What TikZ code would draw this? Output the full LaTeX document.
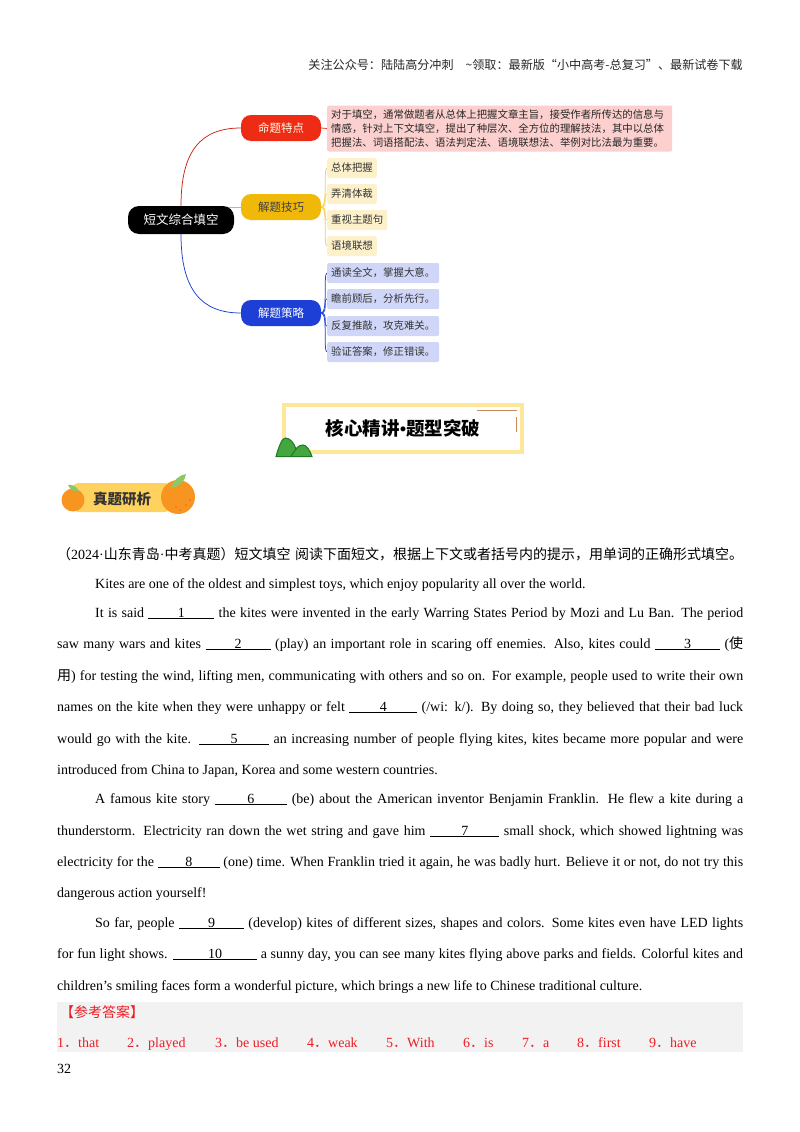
\documentclass[tikz,border=0pt]{standalone}
\usepackage{fontspec}
\setmainfont{Liberation Serif}
\newfontfamily\cjk{Noto Sans CJK SC}
\usetikzlibrary{backgrounds,calc}
\definecolor{cred}{HTML}{EE2C16}
\definecolor{cyel}{HTML}{F0B90A}
\definecolor{cblu}{HTML}{1E3FD6}
\definecolor{lred}{HTML}{FBD0CE}
\definecolor{lyel}{HTML}{FDF1CC}
\definecolor{lblu}{HTML}{D0D6F8}
\definecolor{frame}{HTML}{FFE79A}
\definecolor{gband}{HTML}{F2F2F2}
\definecolor{ansred}{HTML}{EE1C25}
\definecolor{orng}{HTML}{F89420}
\definecolor{lf}{HTML}{8CC868}
\definecolor{mnt}{HTML}{45A63F}
\definecolor{mntd}{HTML}{1B7A22}
\definecolor{tagc}{HTML}{FFD25E}
\definecolor{thinc}{HTML}{C98A60}
\newcommand\blank[2]{$\underline{\hbox to #1pt{\hss #2\hss}}$}
\newcommand\zh[1]{{\cjk\fontsize{14}{16}\selectfont #1}}
\tikzset{
  x=1pt,y=-1pt,
  branch/.style={rounded corners=10pt,minimum width=80pt,minimum height=26pt,inner sep=0pt,font=\cjk\fontsize{11.5}{13}\selectfont},
  leaf/.style={rounded corners=2pt,anchor=west,minimum height=20pt,inner sep=0pt,inner xsep=4pt,font=\cjk\fontsize{10.4}{13}\selectfont,text=black!80},
  bodyl/.style={anchor=base west,inner sep=0pt,font=\fontsize{14}{16}\selectfont},
  ans/.style={anchor=base west,inner sep=0pt,text=ansred,font=\fontsize{14}{16}\selectfont},
  link/.style={line width=0.75pt},
}
\begin{document}
\begin{tikzpicture}
\useasboundingbox (0,0) rectangle (800,1132);
\begin{scope}[on background layer]
\fill[white] (0,0) rectangle (800,1132);
\fill[gband] (57,1002) rectangle (743,1052);
\end{scope}
% header
\node[anchor=east,inner sep=0pt,font=\cjk\fontsize{12.1}{14}\selectfont,text=black!85] (hdr) at (743,65) {关注公众号：陆陆高分冲刺\hspace{12pt}\textasciitilde 领取：最新版“小中高考-总复习”、最新试卷下载};
% mind map
\node[rounded corners=11pt,fill=black,text=white,minimum width=106pt,minimum height=28pt,inner sep=0pt,font=\cjk\fontsize{12.5}{14}\selectfont] (root) at (181,220) {短文综合填空};
\node[branch,fill=cred,text=white!90!yellow] (b1) at (281,128) {命题特点};
\node[branch,fill=cyel,text=black!75] (b2) at (281,207) {解题技巧};
\node[branch,fill=cblu,text=white] (b3) at (281,313) {解题策略};
\node[anchor=west,fill=lred,rounded corners=2pt,inner sep=0pt,inner xsep=4pt,minimum height=46pt,text width=337pt,align=left,font=\cjk\fontsize{10.4}{14}\selectfont,text=black!85] (pink) at (327,128.5) {对于填空，通常做题者从总体上把握文章主旨，接受作者所传达的信息与\\情感，针对上下文填空，提出了种层次、全方位的理解技法，其中以总体\\把握法、词语搭配法、语法判定法、语境联想法、举例对比法最为重要。};
\node[leaf,fill=lyel] (y1) at (327,168) {总体把握};
\node[leaf,fill=lyel] (y2) at (327,194) {弄清体裁};
\node[leaf,fill=lyel] (y3) at (327,220) {重视主题句};
\node[leaf,fill=lyel] (y4) at (327,246) {语境联想};
\node[leaf,fill=lblu] (u1) at (327,273) {通读全文，掌握大意。};
\node[leaf,fill=lblu] (u2) at (327,299) {瞻前顾后，分析先行。};
\node[leaf,fill=lblu] (u3) at (327,326) {反复推敲，攻克难关。};
\node[leaf,fill=lblu] (u4) at (327,352) {验证答案，修正错误。};
\begin{scope}[on background layer]
\draw[link,cred!85!black] (root.north) .. controls +(0,-55) and +(-40,0) .. (b1.west);
\draw[link,cyel] (b2.west) -- ([xshift=-9pt]b2.west -| root.east);
\draw[link,cblu] (root.south) .. controls +(0,55) and +(-40,0) .. (b3.west);
\draw[link,cred] (b1.east) -- (pink.west);
\foreach \n in {y1,y2,y3,y4}{\draw[link,cyel!70] (b2.east) .. controls +(7,0) and +(-4,0) .. (\n.west);}
\foreach \n in {u1,u2,u3,u4}{\draw[link,cblu] (b3.east) .. controls +(7,0) and +(-4,0) .. (\n.west);}
\end{scope}
% banner
\draw[frame,line width=4pt] (284,405) rectangle (522,452);
\draw[thinc,line width=1pt] (477,410) -- (517,410);
\draw[thinc,line width=1pt] (516,417) -- (516,432);
\filldraw[fill=mnt,draw=mntd,line width=1pt] (276,456.5) .. controls (279,446) and (282,438) .. (285.5,438) .. controls (290,438) and (294,443) .. (296,449) .. controls (298,446) and (301,445) .. (303,445) .. controls (307,445) and (310,451) .. (312,456.5) -- cycle;
\draw[mntd,line width=1pt] (296,449) -- (291,456);
\node[inner sep=0pt,font=\cjk\bfseries\fontsize{18.5}{20}\selectfont] (bt) at (403,428) {核心精讲{\rmfamily\bfseries •}题型突破};
% tag
\fill[rounded corners=5pt,fill=tagc] (73,483) rectangle (170,512);
\fill[orng] (73,500) circle (11.5);
\fill[orng] (178,497) circle (17);
\fill[lf] (68,485) .. controls (73,484) and (77,487) .. (79,491) .. controls (75,492) and (70,490) .. (68,485) -- cycle;
\fill[lf] (171,488) .. controls (174,480) and (179,475) .. (186,474) .. controls (185,481) and (180,487) .. (171,488) -- cycle;
\foreach \p in {(186,505),(190,500),(180,510),(176,507)}{\fill[red!60!orange] \p circle (0.6);}
\node[inner sep=0pt,font=\cjk\bfseries\fontsize{14.5}{16}\selectfont,text=black!80] (tt) at (122,499) {真题研析};
% body
\node[bodyl] (t0) at (57,559) {\hbox to 686pt{\zh{（}2024·\zh{山东青岛}·\zh{中考真题）短文填空}\hfil\zh{阅读下面短文，根据上下文或者括号内的提示，用单词的正确形式填空。}}};
\node[bodyl] (t1) at (95,588) {Kites are one of the oldest and simplest toys, which enjoy popularity all over the world.};
\node[bodyl] (t2) at (95,617) {\hbox to 648pt{It is said \blank{66}{1} the kites were invented in the early Warring States Period by Mozi and Lu Ban. The period}};
\node[bodyl] (t3) at (57,648) {\hbox to 686pt{saw many wars and kites \blank{65}{2} (play) an important role in scaring off enemies. Also, kites could \blank{65}{3} (\zh{使}}};
\node[bodyl] (t4) at (57,680) {\hbox to 686pt{\zh{用}) for testing the wind, lifting men, communicating with others and so on. For example, people used to write their own}};
\node[bodyl] (t5) at (57,711) {\hbox to 686pt{names on the kite when they were unhappy or felt \blank{68}{4} (/wi: k/). By doing so, they believed that their bad luck}};
\node[bodyl] (t6) at (57,743) {\hbox to 686pt{would go with the kite. \blank{70}{5} an increasing number of people flying kites, kites became more popular and were}};
\node[bodyl] (t7) at (57,774) {introduced from China to Japan, Korea and some western countries.};
\node[bodyl] (t8) at (95,803) {\hbox to 648pt{A famous kite story \blank{72}{6} (be) about the American inventor Benjamin Franklin. He flew a kite during a}};
\node[bodyl] (t9) at (57,835) {\hbox to 686pt{thunderstorm. Electricity ran down the wet string and gave him \blank{69}{7} small shock, which showed lightning was}};
\node[bodyl] (t10) at (57,866) {\hbox to 686pt{electricity for the \blank{62}{8} (one) time. When Franklin tried it again, he was badly hurt. Believe it or not, do not try this}};
\node[bodyl] (t11) at (57,897) {dangerous action yourself!};
\node[bodyl] (t12) at (95,927) {\hbox to 648pt{So far, people \blank{65}{9} (develop) kites of different sizes, shapes and colors. Some kites even have LED lights}};
\node[bodyl] (t13) at (57,958) {\hbox to 686pt{for fun light shows. \blank{84}{10} a sunny day, you can see many kites flying above parks and fields. Colorful kites and}};
\node[bodyl] (t14) at (57,990) {children’s smiling faces form a wonderful picture, which brings a new life to Chinese traditional culture.};
% answers
\node[ans,font=\cjk\fontsize{14}{16}\selectfont] (ah) at (60,1017) {【参考答案】};
\node[ans] (a1) at (57,1047) {1{\cjk．}that};
\node[ans] (a2) at (127,1047) {2{\cjk．}played};
\node[ans] (a3) at (215,1047) {3{\cjk．}be used};
\node[ans] (a4) at (307,1047) {4{\cjk．}weak};
\node[ans] (a5) at (386,1047) {5{\cjk．}With};
\node[ans] (a6) at (463,1047) {6{\cjk．}is};
\node[ans] (a7) at (522,1047) {7{\cjk．}a};
\node[ans] (a8) at (577,1047) {8{\cjk．}first};
\node[ans] (a9) at (649,1047) {9{\cjk．}have};
\node[bodyl] (pg) at (57,1073) {32};
\end{tikzpicture}
\end{document}
